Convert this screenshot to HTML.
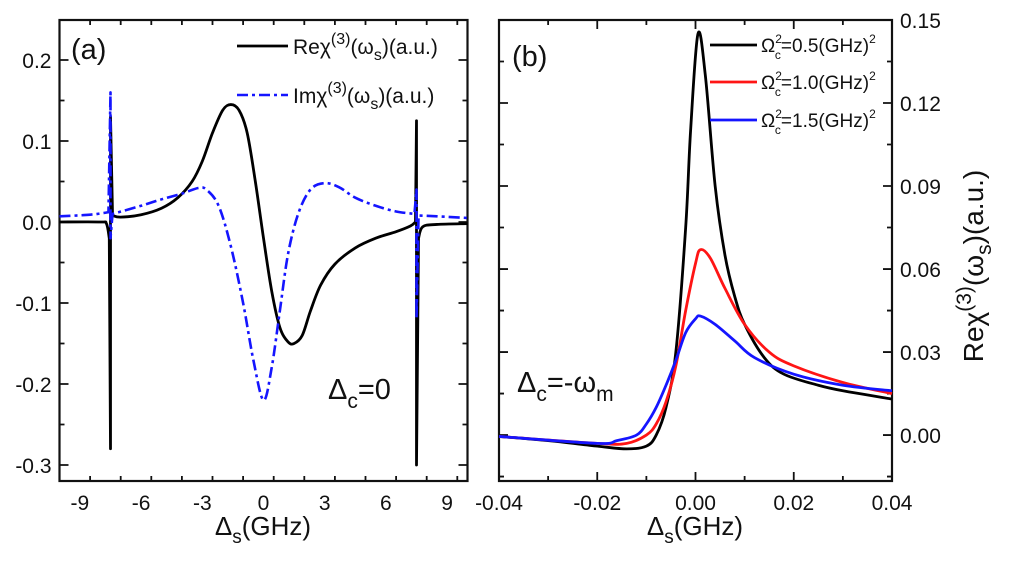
<!DOCTYPE html>
<html><head><meta charset="utf-8"><style>
body{margin:0;background:#fff}
svg text{font-family:"Liberation Sans",sans-serif;fill:#111}
</style></head><body>
<svg id="c" width="1024" height="560" xmlns="http://www.w3.org/2000/svg"></svg>
<script>
// Panel (a) data
const aReX=[-10,-8,-7.7,-7.56,-7.5,-7.5,-7.4,-7,-6,-5,-4.2,-3.5,-3,-2.5,-2,-1.6,-1.2,-0.8,-0.4,0,0.4,0.8,1.2,1.5,1.9,2.3,2.8,3.5,4.5,5.5,6.5,7.2,7.45,7.5,7.5,7.6,7.8,8.5,10];
const aReY=[0,0,-0.002,-0.02,-0.28,0.13,0.008,0.006,0.009,0.017,0.03,0.05,0.075,0.11,0.138,0.145,0.138,0.11,0.05,-0.02,-0.085,-0.13,-0.148,-0.15,-0.14,-0.11,-0.078,-0.052,-0.032,-0.02,-0.012,-0.005,0.0,0.125,-0.3,-0.02,-0.006,-0.003,-0.002];
const aImX=[-10,-8.5,-7.6,-7.5,-7.5,-7.4,-6,-5,-4,-3.2,-2.8,-2.2,-1.6,-1,-0.5,0,0.4,0.8,1.2,1.7,2.3,3,3.7,4.5,5.5,6.5,7.4,7.5,7.5,7.6,8.5,10];
const aImY=[0.007,0.009,0.012,0.16,-0.02,0.01,0.02,0.028,0.035,0.042,0.04,0.02,-0.03,-0.1,-0.17,-0.22,-0.18,-0.11,-0.04,0.01,0.04,0.048,0.043,0.03,0.02,0.013,0.01,0.04,-0.12,0.008,0.007,0.005];
const aXTicks=[-9,-6,-3,0,3,6,9];
const aYTicks=[-0.3,-0.2,-0.1,0.0,0.1,0.2];
// Panel (b) data
const bBlackX=[-0.04,-0.03,-0.02,-0.014,-0.01,-0.008,-0.006,-0.004,-0.002,-0.001,0.0005,0.002,0.004,0.006,0.008,0.01,0.014,0.018,0.025,0.03,0.04];
const bBlackY=[-0.0005,-0.002,-0.004,-0.005,-0.004,0,0.01,0.03,0.075,0.11,0.145,0.13,0.09,0.065,0.05,0.04,0.028,0.022,0.018,0.016,0.013];
const bRedX=[-0.04,-0.02,-0.014,-0.01,-0.008,-0.006,-0.004,-0.002,0,0.001,0.003,0.006,0.01,0.015,0.02,0.03,0.04];
const bRedY=[-0.0005,-0.003,-0.003,0,0.004,0.012,0.025,0.045,0.062,0.067,0.064,0.053,0.04,0.03,0.025,0.019,0.015];
const bBlueX=[-0.04,-0.02,-0.016,-0.012,-0.01,-0.008,-0.006,-0.004,-0.002,0,0.001,0.004,0.008,0.012,0.02,0.03,0.04];
const bBlueY=[-0.0005,-0.003,-0.002,0,0.004,0.01,0.018,0.027,0.037,0.042,0.043,0.040,0.034,0.028,0.022,0.018,0.016];
const bXTicks=[-0.04,-0.02,0.00,0.02,0.04];
const bYTicks=[0.00,0.03,0.06,0.09,0.12,0.15];

const svg=document.getElementById('c');const NS='http://www.w3.org/2000/svg';
function el(t,a,txt){const e=document.createElementNS(NS,t);for(const k in a)e.setAttribute(k,a[k]);if(txt!==undefined)e.innerHTML=txt;svg.appendChild(e);return e;}
const A={x0:59.5,x1:467.5,y0:20,y1:481,xmin:-10,xmax:10,ymin:-0.3198,ymax:0.2494};
const B={x0:499,x1:892,y0:20,y1:481,xmin:-0.04,xmax:0.04,ymin:-0.0166,ymax:0.15};
function sx(P,v){return P.x0+(v-P.xmin)/(P.xmax-P.xmin)*(P.x1-P.x0);}
function sy(P,v){return P.y1-(v-P.ymin)/(P.ymax-P.ymin)*(P.y1-P.y0);}
function smoothSeg(p){let d='';
 for(let i=0;i<p.length-1;i++){const a=p[i-1]||p[i],b=p[i],c=p[i+1],e=p[i+2]||c;
  d+=`C${(b[0]+(c[0]-a[0])/6).toFixed(2)},${(b[1]+(c[1]-a[1])/6).toFixed(2)} ${(c[0]-(e[0]-b[0])/6).toFixed(2)},${(c[1]-(e[1]-b[1])/6).toFixed(2)} ${c[0].toFixed(2)},${c[1].toFixed(2)}`;}
 return d;}
function path(P,xs,ys){const p=xs.map((x,i)=>[sx(P,x),sy(P,ys[i])]);
 const segs=[];let cur=[p[0]];
 for(let i=1;i<p.length;i++){
  const spike=Math.abs(xs[i]-xs[i-1])<1e-9||(i+1<p.length&&Math.abs(xs[i+1]-xs[i])<1e-9)||(i>=2&&Math.abs(xs[i-1]-xs[i-2])<1e-9);
  if(spike){segs.push(cur);cur=[p[i-1],p[i]];segs.push(cur);cur=[p[i]];}else cur.push(p[i]);}
 segs.push(cur);
 let d='M'+p[0][0].toFixed(2)+','+p[0][1].toFixed(2);
 segs.forEach(s=>{if(s.length<2)return;
  if(s.length===2)d+='L'+s[1][0].toFixed(2)+','+s[1][1].toFixed(2);
  else d+=smoothSeg(s);});
 return d;}
function frame(P,xt,yt,xminor,yminor,name,yLabRight,fmtX,fmtY){
 let r=el('rect',{x:P.x0,y:P.y0,width:P.x1-P.x0,height:P.y1-P.y0,fill:'none',stroke:'#111','stroke-width':2.2});
 
 let d='';
 for(let v=P.xmin;v<=P.xmax+1e-9;v+=xminor){const x=sx(P,v);const maj=xt.some(t=>Math.abs(t-v)<1e-9);const L=maj?9:5;d+=`M${x},${P.y1}v${-L}M${x},${P.y0}v${L}`;}
 for(let v=Math.ceil(P.ymin/yminor-1e-6)*yminor;v<=P.ymax+1e-9;v+=yminor){const y=sy(P,v);const maj=yt.some(t=>Math.abs(t-v)<1e-9);const L=maj?9:5;d+=`M${P.x0},${y}h${L}M${P.x1},${y}h${-L}`;}
 const t=el('path',{d:d,stroke:'#111','stroke-width':1.8,fill:'none'});
 xt.forEach(v=>{const e=el('text',{x:sx(P,v),y:P.y1+29,'font-size':21,'text-anchor':'middle'},fmtX(v));});
 yt.forEach(v=>{const e=yLabRight?el('text',{x:P.x1+8,y:sy(P,v)+8,'font-size':21,'text-anchor':'start'},fmtY(v)):el('text',{x:P.x0-8,y:sy(P,v)+8,'font-size':21,'text-anchor':'end'},fmtY(v));});
}
frame(A,aXTicks,aYTicks,1.5,0.05,'panel-a',false,v=>String(v),v=>v.toFixed(1));
frame(B,bXTicks,bYTicks,0.01,0.015,'panel-b',true,v=>v.toFixed(2),v=>v.toFixed(2));
let p=el('path',{d:path(A,aReX,aReY),stroke:'#000','stroke-width':2.8,fill:'none','stroke-linejoin':'round'});

p=el('path',{d:path(A,aImX,aImY),stroke:'#1515ff','stroke-width':2.6,fill:'none','stroke-dasharray':'11,4,3,4','stroke-linejoin':'round'});

[[bBlackX,bBlackY,'#000','black-line-0-5'],[bRedX,bRedY,'#ff1515','red-line-1-0'],[bBlueX,bBlueY,'#1515ff','blue-line-1-5']].forEach(s=>{
 const q=el('path',{d:path(B,s[0],s[1]),stroke:s[2],'stroke-width':2.8,fill:'none'});
 });
let l;
l=el('line',{x1:237,y1:46,x2:288,y2:46,stroke:'#000','stroke-width':2.8});
l=el('text',{x:293,y:54,'font-size':21},'Reχ<tspan dy="-10" font-size="16">(3)</tspan><tspan dy="10">(ω</tspan><tspan dy="6" font-size="16">s</tspan><tspan dy="-6">)(a.u.)</tspan>');
l=el('line',{x1:237,y1:95,x2:288,y2:95,stroke:'#1515ff','stroke-width':2.6,'stroke-dasharray':'11,4,3,4'});
l=el('text',{x:293,y:103,'font-size':21},'Imχ<tspan dy="-10" font-size="16">(3)</tspan><tspan dy="10">(ω</tspan><tspan dy="6" font-size="16">s</tspan><tspan dy="-6">)(a.u.)</tspan>');
[['#000','0.5',45],['#ff1515','1.0',82],['#1515ff','1.5',120]].forEach((g,i)=>{
 let s=el('line',{x1:710,y1:g[2],x2:757,y2:g[2],stroke:g[0],'stroke-width':2.8});
 s=el('text',{x:761,y:g[2]+7,'font-size':19},'Ω<tspan dy="-9" font-size="12">2</tspan><tspan dx="-7" dy="16" font-size="12">c</tspan><tspan dy="-7">='+g[1]+'(GHz)</tspan><tspan dy="-9" font-size="12">2</tspan>');});
l=el('text',{x:71,y:59,'font-size':29},'(a)');
l=el('text',{x:512,y:66,'font-size':29},'(b)');
l=el('text',{x:328,y:399,'font-size':29},'Δ<tspan dy="9" font-size="21">c</tspan><tspan dy="-9">=0</tspan>');
l=el('text',{x:517,y:392,'font-size':29},'Δ<tspan dy="9" font-size="21">c</tspan><tspan dy="-9">=-ω</tspan><tspan dy="9" font-size="21">m</tspan>');
l=el('text',{x:263,y:535,'font-size':26,'text-anchor':'middle'},'Δ<tspan dy="8" font-size="19">s</tspan><tspan dy="-8">(GHz)</tspan>');
l=el('text',{x:695,y:535,'font-size':26,'text-anchor':'middle'},'Δ<tspan dy="8" font-size="19">s</tspan><tspan dy="-8">(GHz)</tspan>');
l=el('text',{x:0,y:0,'font-size':28,'text-anchor':'middle',transform:'translate(983,266) rotate(-90)'},'Reχ<tspan dy="-12" font-size="21">(3)</tspan><tspan dy="12">(ω</tspan><tspan dy="8" font-size="21">s</tspan><tspan dy="-8">)(a.u.)</tspan>');
</script>
</body></html>
